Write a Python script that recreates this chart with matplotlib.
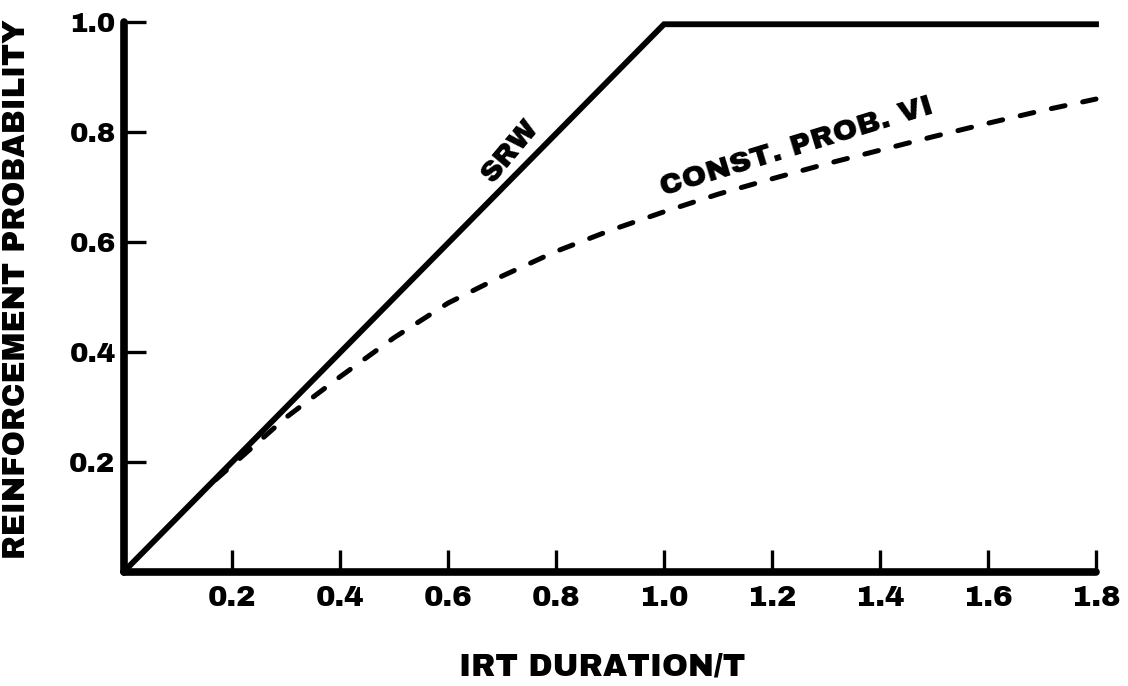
import matplotlib
matplotlib.use("Agg")
import matplotlib.pyplot as plt

# ---- data ----
srw_x = [0.0, 1.0, 1.8]
srw_y = [0.0, 0.995, 0.995]

vi_x = [0.17, 0.2, 0.3, 0.4, 0.5, 0.6, 0.7, 0.8, 0.9, 1.0, 1.1, 1.2, 1.3, 1.4, 1.5, 1.6, 1.7, 1.8]
vi_y = [0.167, 0.193, 0.280, 0.354, 0.425, 0.488, 0.537, 0.582, 0.620, 0.654, 0.686, 0.714, 0.741, 0.766, 0.791, 0.815, 0.838, 0.859]

x_ticks = [0.2, 0.4, 0.6, 0.8, 1.0, 1.2, 1.4, 1.6, 1.8]
x_ticklabels = ["0.2", "0.4", "0.6", "0.8", "1.0", "1.2", "1.4", "1.6", "1.8"]
y_ticks = [0.2, 0.4, 0.6, 0.8, 1.0]
y_ticklabels = ["0.2", "0.4", "0.6", "0.8", "1.0"]

plt.rcParams["font.family"] = ["Archivo Black", "DejaVu Sans"]

fig = plt.figure(figsize=(11.28, 6.86), dpi=100)
ax = fig.add_axes([124 / 1128, 1 - 571.5 / 686, (1096 - 124) / 1128, (571.5 - 21.5) / 686])

ax.plot(srw_x, srw_y, color="black", lw=4.2, solid_joinstyle="miter", clip_on=False)
ax.plot(vi_x, vi_y, color="black", lw=3.6, dashes=(2.8, 3.6), dash_capstyle="round", clip_on=False)

ax.set_xlim(0, 1.8)
ax.set_ylim(0, 1.0)
for s in ["top", "right"]:
    ax.spines[s].set_visible(False)
for s in ["left", "bottom"]:
    ax.spines[s].set_linewidth(5.5)
    ax.spines[s].set_capstyle("round")

ax.set_xticks(x_ticks)
ax.set_xticklabels(x_ticklabels)
ax.set_yticks(y_ticks)
ax.set_yticklabels(y_ticklabels)
ax.tick_params(axis="both", direction="in", length=16, width=2.4)
ax.tick_params(axis="x", pad=10, labelsize=21)
ax.tick_params(axis="y", pad=6, labelsize=20)

fig.text(17 / 1128, 1 - 289 / 686, "REINFORCEMENT PROBABILITY", rotation=90,
         ha="center", va="center", fontsize=22)
fig.text(602 / 1128, 1 - 667 / 686, "IRT DURATION/T",
         ha="center", va="center", fontsize=22.5)

ax.text(0.716, 0.764, "SRW", rotation=50, ha="center", va="center", fontsize=21)
ax.text(1.245, 0.772, "CONST. PROB. VI", rotation=17, ha="center", va="center", fontsize=21.5)

fig.savefig("out.png", dpi=100)
